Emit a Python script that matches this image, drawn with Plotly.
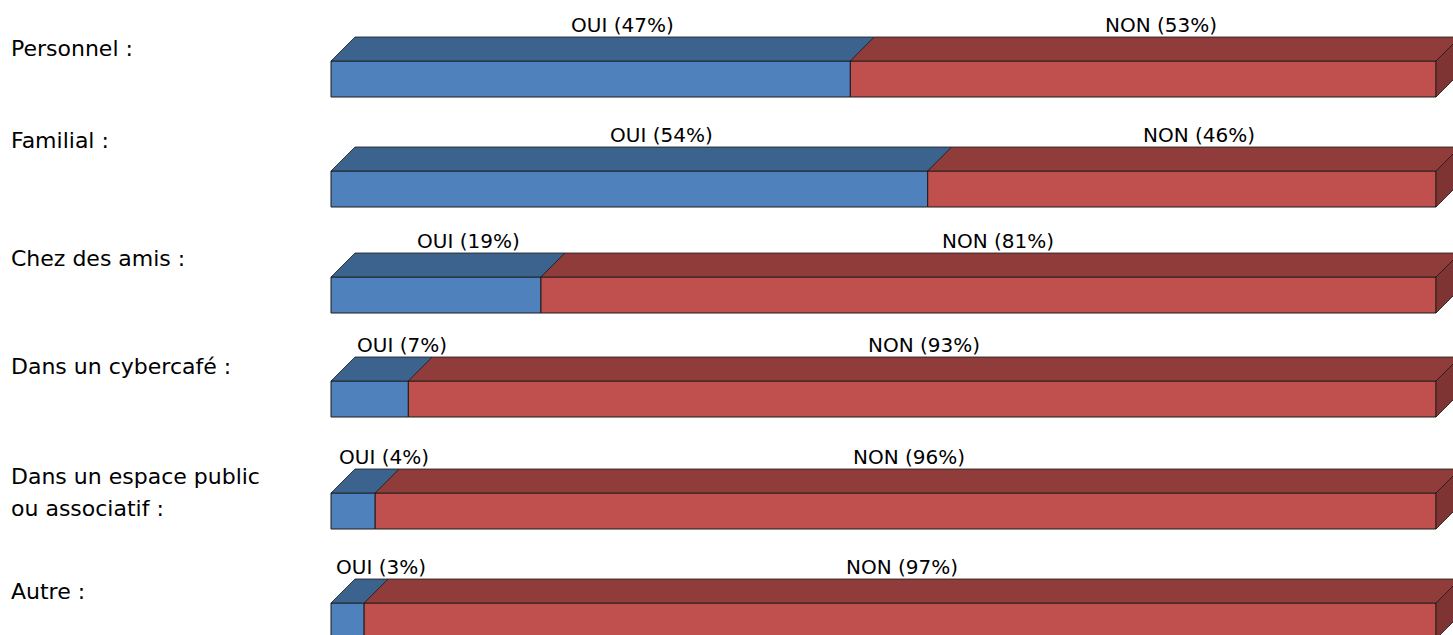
import plotly.graph_objects as go

# Lieux d'accès à Internet : part de OUI / NON (%)
categories = ["Personnel :", "Familial :", "Chez des amis :", "Dans un cybercafé :",
              "Dans un espace public<br>ou associatif :", "Autre :"]
oui = [47, 54, 19, 7, 4, 3]
non = [53, 46, 81, 93, 96, 97]

# --- layout constants (pixels) ---------------------------------------------
W, H = 1453, 635
X0_PX, X100_PX = 331, 1436                 # horizontal position of 0 % and 100 %
PX_PER_PCT = (X100_PX - X0_PX) / 100
ROW_CENTER_PX = [79, 189, 295, 399, 511, 621]   # centre of each front face
FRONT_PX = 36                              # height of a front face
DEPTH_PX = 24                              # 3D depth (both x and y)

DX = DEPTH_PX / PX_PER_PCT

BLUE_FRONT, BLUE_TOP = "#4F81BD", "#3C628E"
RED_FRONT, RED_TOP, RED_SIDE = "#C0504D", "#8F3C3A", "#7E3432"
EDGE = "#1a1a1a"
FONT = "DejaVu Sans"

CAT_LABEL_X_PX = 9
CAT_LABEL_Y_PX = [48, 140, 258, 366, 476, 591]
CAT_LINE_GAP_PX = 32
LABEL_ABOVE_PX = 12
OUI_LABEL_DX_PX = [32, 32, 33, 32, 31, 33]
NON_LABEL_DX_PX = [18, 17, 10, 2, 3, 2]

fig = go.Figure()

# front faces as stacked horizontal bars
fig.add_trace(go.Bar(y=ROW_CENTER_PX, x=oui, orientation="h", width=FRONT_PX,
                     marker=dict(color=BLUE_FRONT, line=dict(color=EDGE, width=1)),
                     hoverinfo="skip"))
fig.add_trace(go.Bar(y=ROW_CENTER_PX, x=non, base=oui, orientation="h", width=FRONT_PX,
                     marker=dict(color=RED_FRONT, line=dict(color=EDGE, width=1)),
                     hoverinfo="skip"))


def face(xs, ys, color):
    fig.add_trace(go.Scatter(x=xs + [xs[0]], y=ys + [ys[0]], mode="lines", fill="toself",
                             fillcolor=color, line=dict(color=EDGE, width=0.8),
                             hoverinfo="skip"))


annotations = []
for i, yc in enumerate(ROW_CENTER_PX):
    top = yc - FRONT_PX / 2
    bot = yc + FRONT_PX / 2
    back = top - DEPTH_PX
    segs = [(0, oui[i], BLUE_TOP), (oui[i], oui[i] + non[i], RED_TOP)]
    for a, b, c in segs:
        face([a, a + DX, b + DX, b], [top, back, back, top], c)
    end = oui[i] + non[i]
    face([end, end + DX, end + DX, end], [top, back, bot - DEPTH_PX, bot], RED_SIDE)

    for (a, b, _), name, val, off in zip(segs, ["OUI", "NON"], [oui[i], non[i]],
                                          [OUI_LABEL_DX_PX[i], NON_LABEL_DX_PX[i]]):
        annotations.append(dict(x=(a + b) / 2, y=back, xref="x", yref="y",
                                text=f"{name} ({val}%)", showarrow=False,
                                xanchor="center", yanchor="middle",
                                xshift=off, yshift=LABEL_ABOVE_PX,
                                font=dict(family=FONT, size=20, color="#000")))

    for k, line in enumerate(categories[i].split("<br>")):
        annotations.append(dict(x=CAT_LABEL_X_PX / W,
                                y=1 - (CAT_LABEL_Y_PX[i] + k * CAT_LINE_GAP_PX) / H,
                                xref="paper", yref="paper", text=line, showarrow=False,
                                xanchor="left", yanchor="middle",
                                font=dict(family=FONT, size=22, color="#000")))

fig.update_layout(
    width=W, height=H, margin=dict(l=0, r=0, t=0, b=0),
    paper_bgcolor="white", plot_bgcolor="white",
    barmode="overlay", showlegend=False,
    xaxis=dict(range=[-X0_PX / PX_PER_PCT, (W - X0_PX) / PX_PER_PCT], visible=False,
               fixedrange=True),
    yaxis=dict(range=[H, 0], visible=False, fixedrange=True),
    annotations=annotations,
)

fig.write_html("out.html", config={"displayModeBar": False})
